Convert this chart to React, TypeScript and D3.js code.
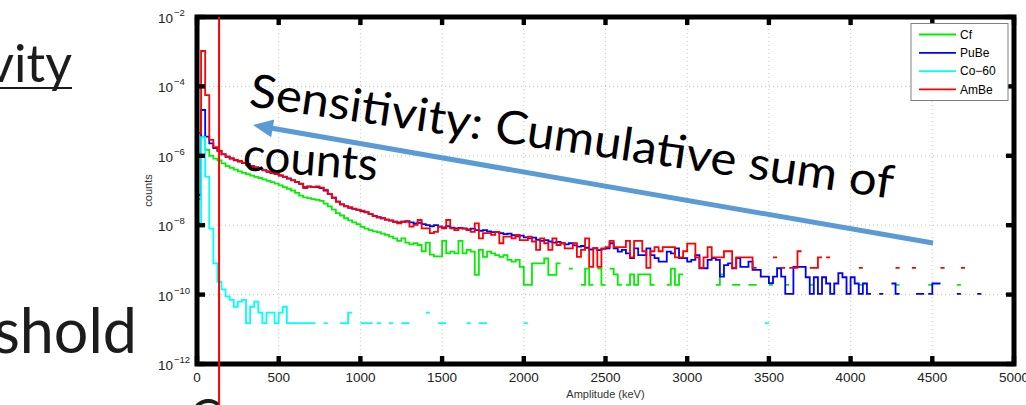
import React from "react";
import * as d3 from "d3";

const _ = null;

// histogram bin width (keV); bin i covers [i*BIN_KEV, (i+1)*BIN_KEV)
const BIN_KEV = 25;
const X_TICKS = [0, 500, 1000, 1500, 2000, 2500, 3000, 3500, 4000, 4500, 5000];
const Y_TICK_EXP = [-12, -10, -8, -6, -4, -2];
const THRESHOLD_KEV = 135;

// log10(counts) per 25 keV bin, null = empty bin
const cfLog10 = [
  -7.25, -5.45, -5.83, -6.0, -6.08, -6.13, -6.22, -6.3, -6.35, -6.4,
  -6.45, -6.49, -6.53, -6.57, -6.61, -6.64, -6.68, -6.72, -6.76, -6.8,
  -6.85, -6.9, -6.95, -7.0, -7.07, -7.15, -7.2, -7.22, -7.25, -7.27,
  -7.3, -7.38, -7.46, -7.55, -7.65, -7.72, -7.8, -7.86, -7.92, -7.97,
  -8.05, -8.1, -8.14, -8.18, -8.2, -8.24, -8.28, -8.33, -8.38, -8.45,
  -8.38, -8.5, -8.55, -8.52, -8.57, -8.75, -8.5, -8.85, -8.9, -8.9,
  -8.45, -8.81, -8.76, -8.81, -8.45, -8.81, -8.71, -8.76, -9.43, -8.71,
  -8.91, -8.76, -8.81, -8.86, -8.91, -8.86, -9.0, -9.05, -9.0, -9.2,
  -9.72, -9.72, -9.1, -9.1, -9.1, -8.96, -9.43, -9.43, -9.1, _,
  _, -9.25, _, _, -9.72, -9.25, -9.72, _, -9.25, -9.72,
  _, -9.25, -9.42, -9.72, _, -9.72, -9.42, -9.72, -9.42, -9.42,
  -9.42, -9.72, _, _, _, -9.72, -9.25, -9.72, -9.42, _,
  _, _, _, _, _, _, _, -9.72, -9.42, _,
  _, -9.72, -9.72, _, _, -9.72, -9.72, _, _, _,
  -9.72, _, _, _, -9.72, _, _, _, _, _,
  -9.72, _, _, _, _, _, _, _, _, _,
  _, _, -9.72, _, _, _, _, _, _, _,
  _, -9.72, _, _, _, _, _, _, _, -9.72,
  _, _, _, _, _, _, -9.72, _, _, _,
  _, _, _, _, _, _, _, _, _, _,
];

const puBeLog10 = [
  -7.13, -4.68, -5.45, -5.64, -5.78, -5.86, -5.96, -6.03, -6.08, -6.13,
  -6.17, -6.21, -6.25, -6.3, -6.34, -6.38, -6.42, -6.46, -6.5, -6.53,
  -6.57, -6.61, -6.66, -6.71, -6.76, -6.81, -6.9, -6.89, -6.9, -6.9,
  -6.93, -7.0, -7.1, -7.21, -7.32, -7.4, -7.46, -7.5, -7.53, -7.56,
  -7.6, -7.63, -7.68, -7.73, -7.77, -7.8, -7.84, -7.87, -7.9, -7.92,
  -7.9, -7.88, -7.92, -7.95, -7.93, -7.97, -8.0, -8.03, -8.0, -8.04,
  -8.06, -8.03, -8.07, -8.09, -8.08, -8.1, -8.12, -8.1, -8.14, -8.16,
  -8.14, -8.18, -8.2, -8.19, -8.23, -8.26, -8.24, -8.29, -8.32, -8.3,
  -8.35, -8.38, -8.36, -8.42, -8.45, -8.43, -8.47, -8.5, -8.48, -8.52,
  -8.55, -8.52, -8.58, -8.62, -8.6, -8.65, -8.7, -8.66, -8.72, -8.68,
  -8.67, -8.52, -8.67, -8.76, -8.71, -8.81, -8.95, -8.67, -8.86, -8.86,
  -8.67, -8.86, -8.95, -9.05, -9.05, -8.76, -8.81, -8.67, -8.95, -8.95,
  -9.05, -9.0, -8.86, -9.24, -9.24, -9.0, -8.95, -9.0, -9.48, -9.15,
  -9.1, -9.24, -8.95, -9.2, -9.2, -9.05, -9.29, -9.29, -9.48, -9.48,
  -9.67, -9.48, -9.24, -9.48, -9.98, -9.98, -9.2, -9.2, -9.2, -9.5,
  -9.98, -9.5, -9.98, -9.5, -9.68, -9.98, -9.68, -9.38, -9.5, -9.98,
  -9.5, -9.68, -9.98, -9.68, -9.98, _, _, -9.98, _, _,
  -9.68, -9.98, _, _, _, _, -9.98, -9.98, _, -9.98,
  -9.68, -9.68, _, _, _, _, -9.98, _, _, _,
  _, -9.98, _, _, _, _, _, _, -9.98, _,
];

const co60Log10 = [
  -7.94, -5.46, -6.6, -8.1, -9.1, -9.63, -9.85, -10.05, -10.15, -10.35,
  -10.2, -10.15, -10.82, -10.35, -10.2, -10.52, -10.82, -10.52, -10.52, -10.82,
  -10.52, -10.35, -10.82, -10.82, -10.82, -10.82, -10.82, -10.82, -10.82, _,
  _, -10.82, _, _, _, -10.82, -10.82, -10.52, _, _,
  -10.82, -10.82, -10.82, _, -10.82, _, _, -10.82, _, _,
  -10.82, -10.82, _, _, _, _, -10.52, _, _, -10.82,
  -10.82, _, _, _, _, _, -10.82, _, _, -10.82,
  -10.82, _, _, _, _, _, _, _, _, _,
  -10.82, _, _, _, _, _, _, _, _, _,
  _, _, _, _, _, _, _, _, _, _,
  _, _, _, _, _, _, _, _, _, _,
  _, _, _, _, _, _, _, _, _, _,
  _, _, _, _, _, _, _, _, _, _,
  _, _, _, _, _, _, _, _, _, -10.82,
  _, _, _, _, _, _, _, _, _, _,
  _, _, _, _, _, _, _, _, _, _,
  _, _, _, _, _, _, _, _, _, _,
  _, _, _, _, _, _, _, _, _, _,
  _, _, _, _, _, _, _, _, _, _,
  _, _, _, _, _, _, _, _, _, _,
];

const amBeLog10 = [
  -5.34, -2.98, -4.25, -5.54, -5.75, -5.85, -5.95, -6.02, -6.07, -6.12,
  -6.15, -6.2, -6.24, -6.29, -6.33, -6.37, -6.41, -6.45, -6.49, -6.52,
  -6.56, -6.6, -6.65, -6.7, -6.75, -6.8, -6.93, -6.88, -6.9, -6.88,
  -6.92, -6.98, -7.1, -7.2, -7.32, -7.4, -7.45, -7.48, -7.52, -7.55,
  -7.58, -7.62, -7.68, -7.74, -7.78, -7.8, -7.84, -7.86, -7.9, -7.95,
  -7.9, -7.9, -8.04, -7.99, -7.85, -8.09, -8.09, -8.23, -8.19, -8.04,
  -8.09, -7.85, -8.09, -8.14, -8.09, -8.09, -8.14, -8.19, -7.95, -8.38,
  -8.23, -8.23, -8.28, -8.19, -8.52, -8.33, -8.33, -8.38, -8.28, -8.43,
  -8.43, -8.33, -8.47, -8.71, -8.38, -8.52, -8.71, -8.38, -8.57, -8.52,
  -8.67, -8.67, -8.52, -8.91, -8.71, -8.38, -9.2, -8.67, -9.2, -8.67,
  -8.63, -8.45, -8.63, -8.63, -8.63, -8.45, -8.93, -8.45, -8.45, -8.75,
  -9.23, -8.75, -8.63, -8.75, -8.63, -8.63, -8.63, -8.93, -8.93, -8.75,
  -8.53, -8.53, -8.93, -9.23, -8.93, -8.63, -8.93, -8.93, -8.93, -8.75,
  -8.75, -9.23, -8.93, -8.93, -8.93, -8.93, -9.23, _, _, _,
  _, -8.93, _, -9.23, _, -9.23, -9.23, -8.75, _, _,
  -9.23, -9.23, -8.93, _, -8.93, _, _, _, _, _,
  _, _, -9.23, _, _, _, _, _, _, _,
  _, -9.23, _, _, _, -9.23, _, _, _, _,
  _, _, -9.23, _, _, _, _, -9.23, _, _,
  _, _, _, _, _, _, _, _, _, _,
];

const SERIES_NAMES = ["Cf", "PuBe", "Co\u221260", "AmBe"];
const SERIES_COLORS = ["#00f000", "#0000ff", "#00ffff", "#ff0000"];
const SERIES_DATA = [cfLog10, puBeLog10, co60Log10, amBeLog10];

const W = 1026;
const H = 405;
const PLOT = { left: 197, right: 1014, top: 17, bottom: 364 };

const x = d3.scaleLinear().domain([0, 5000]).range([PLOT.left, PLOT.right]);
const y = d3.scaleLog().domain([1e-12, 1e-2]).range([PLOT.bottom, PLOT.top]);

type Pt = [number, number] | null;

function stairsPath(vals: (number | null)[]): string {
  const pts: Pt[] = [];
  for (let i = 0; i < vals.length; i++) {
    const v = vals[i];
    if (v == null) continue;
    const prevEmpty = i === 0 || vals[i - 1] == null;
    if (prevEmpty && pts.length) pts.push(null);
    pts.push([i * BIN_KEV, Math.pow(10, v)]);
    const nextEmpty = i === vals.length - 1 || vals[i + 1] == null;
    if (nextEmpty) pts.push([(i + 1) * BIN_KEV, Math.pow(10, v)]);
  }
  const line = d3
    .line<Pt>()
    .defined((d) => d != null)
    .x((d) => x((d as [number, number])[0]))
    .y((d) => y((d as [number, number])[1]))
    .curve(d3.curveStepAfter);
  return line(pts) || "";
}

const TICK_FONT = "'Liberation Sans', Arial, Helvetica, sans-serif";
const SLIDE_FONT = "Lato, 'Open Sans', sans-serif";

export default function App() {
  // annotation arrow geometry
  const tail: [number, number] = [933, 243];
  const tip: [number, number] = [253, 125];
  const dx = tip[0] - tail[0];
  const dy = tip[1] - tail[1];
  const len = Math.hypot(dx, dy);
  const ux = dx / len;
  const uy = dy / len;
  const headLen = 20;
  const headHalf = 9;
  const bx = tip[0] - ux * headLen;
  const by = tip[1] - uy * headLen;
  const nx = -uy;
  const ny = ux;
  const head = `${tip[0]},${tip[1]} ${bx + nx * headHalf},${by + ny * headHalf} ${bx - nx * headHalf},${by - ny * headHalf}`;

  const tickLen = 7;

  return (
    <svg
      width={W}
      height={H}
      style={{ position: "absolute", left: 0, top: 0, background: "#fff" }}
    >
      <rect x={0} y={0} width={W} height={H} fill="#fff" />

      {/* slide text on the left */}
      <text x={72} y={82} textAnchor="end" fontFamily={SLIDE_FONT} fontWeight={400} fontSize={52} fill="#1c1c1c">
        vity
      </text>
      <line x1={0} x2={72} y1={88} y2={88} stroke="#1c1c1c" strokeWidth={2} />
      <text x={137} y={353} textAnchor="end" fontFamily={SLIDE_FONT} fontWeight={400} fontSize={61} fill="#1c1c1c">
        shold
      </text>
      <text x={190} y={432} fontFamily={SLIDE_FONT} fontWeight={400} fontSize={46} fill="#1c1c1c">
        C
      </text>

      {/* grid */}
      {X_TICKS.slice(1, -1).map((t) => (
        <line key={"gx" + t} x1={x(t)} x2={x(t)} y1={PLOT.top} y2={PLOT.bottom} stroke="#c4c4c4" strokeWidth={1} strokeDasharray="1 3" />
      ))}
      {Y_TICK_EXP.slice(1, -1).map((e) => (
        <line key={"gy" + e} x1={PLOT.left} x2={PLOT.right} y1={y(Math.pow(10, e))} y2={y(Math.pow(10, e))} stroke="#c4c4c4" strokeWidth={1} strokeDasharray="1 3" />
      ))}

      {/* data */}
      {SERIES_DATA.map((vals, i) => (
        <path key={SERIES_NAMES[i]} d={stairsPath(vals)} fill="none" stroke={SERIES_COLORS[i]} strokeWidth={1.8} strokeLinejoin="miter" />
      ))}

      {/* axes box */}
      <rect x={PLOT.left} y={PLOT.top} width={PLOT.right - PLOT.left} height={PLOT.bottom - PLOT.top} fill="none" stroke="#000" strokeWidth={5} />
      {X_TICKS.map((t) => (
        <g key={"tx" + t}>
          <rect x={x(t) - 2.2} y={PLOT.bottom - tickLen - 1} width={4.4} height={tickLen + 1} fill="#000" />
          <rect x={x(t) - 2.2} y={PLOT.top} width={4.4} height={tickLen + 1} fill="#000" />
        </g>
      ))}
      {Y_TICK_EXP.map((e) => (
        <g key={"ty" + e}>
          <rect x={PLOT.left} y={y(Math.pow(10, e)) - 2.2} width={tickLen + 1} height={4.4} fill="#000" />
          <rect x={PLOT.right - tickLen - 1} y={y(Math.pow(10, e)) - 2.2} width={tickLen + 1} height={4.4} fill="#000" />
        </g>
      ))}

      {/* tick labels */}
      {X_TICKS.map((t) => (
        <text key={"lx" + t} x={x(t)} y={382} textAnchor="middle" fontFamily={TICK_FONT} fontSize={13.5} fill="#222">
          {t}
        </text>
      ))}
      {Y_TICK_EXP.map((e) => (
        <text key={"ly" + e} x={158} y={y(Math.pow(10, e)) + 6} fontFamily={TICK_FONT} fontSize={13.5} fill="#222">
          10
          <tspan dx={1} dy={-7} fontSize={9.5}>
            {"\u2212" + Math.abs(e)}
          </tspan>
        </text>
      ))}
      <text x={(PLOT.left + PLOT.right) / 2} y={398} textAnchor="middle" fontFamily={TICK_FONT} fontSize={11} fill="#333">
        Amplitude (keV)
      </text>
      <text transform={`translate(152,${(PLOT.top + PLOT.bottom) / 2}) rotate(-90)`} textAnchor="middle" fontFamily={TICK_FONT} fontSize={11} fill="#333">
        counts
      </text>

      {/* legend */}
      <rect x={911} y={23.5} width={97} height={77} fill="#fff" stroke="#808080" strokeWidth={1} />
      {SERIES_NAMES.map((n, i) => {
        const ly = 34.5 + i * 18.3;
        return (
          <g key={"lg" + n}>
            <line x1={919} x2={956} y1={ly} y2={ly} stroke={SERIES_COLORS[i]} strokeWidth={1.8} />
            <text x={960} y={ly + 4.3} fontFamily={TICK_FONT} fontSize={12} fill="#000">
              {n}
            </text>
          </g>
        );
      })}

      {/* threshold line */}
      <line x1={x(THRESHOLD_KEV)} x2={x(THRESHOLD_KEV)} y1={PLOT.top} y2={H} stroke="#ff0000" strokeWidth={2} />

      {/* annotation */}
      <line x1={tail[0]} y1={tail[1]} x2={bx + ux * 2} y2={by + uy * 2} stroke="#5b9bd5" strokeWidth={5} />
      <polygon points={head} fill="#5b9bd5" />
      <text transform="translate(248,106) rotate(8.2)" fontFamily={SLIDE_FONT} fontSize={46} fill="#000" textLength={650} lengthAdjust="spacingAndGlyphs">
        Sensitivity: Cumulative sum of
      </text>
      <text transform="translate(242,170) rotate(4.5)" fontFamily={SLIDE_FONT} fontSize={46} fill="#000" textLength={135} lengthAdjust="spacingAndGlyphs">
        counts
      </text>
    </svg>
  );
}
